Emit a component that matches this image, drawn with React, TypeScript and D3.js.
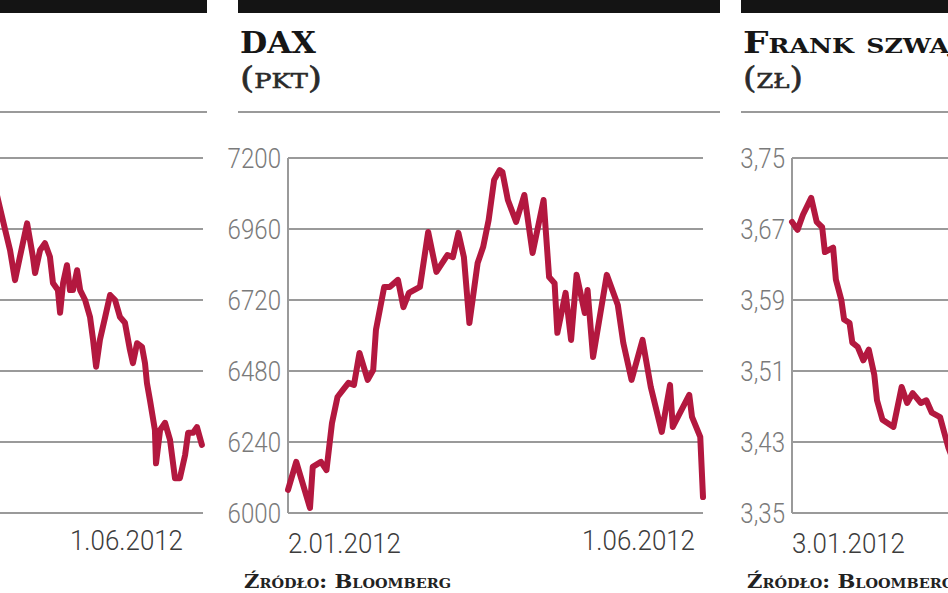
import React from "react";
import * as d3 from "d3";

const WIDTH = 948;
const HEIGHT = 593;

// Left panel (only its right part is visible) – day offsets from 2.01.2012 and values
const leftDays = [75, 77.1, 79, 80.8, 82.6, 84.4, 87, 89.1, 89.9, 91.7, 93.5, 95.3, 96.4, 98.2, 99, 100.1, 101.5, 102.6, 103.7, 105.2, 106.3, 108.1, 109.9, 111, 112.1, 113.5, 115.4, 117.2, 119, 120.8, 122.6, 124.4, 125.5, 127, 128.8, 129.9, 130.6, 131.7, 133.5, 133.9, 135.4, 137.2, 139, 140.8, 142.6, 144.5, 145.6, 147.4, 148.8, 150.6];
const leftValues = [2515, 2480, 2449, 2420, 2378, 2411, 2458, 2411, 2388, 2420, 2430, 2411, 2374, 2364, 2332, 2374, 2399, 2364, 2364, 2392, 2364, 2350, 2326, 2294, 2256, 2294, 2326, 2357, 2350, 2326, 2318, 2280, 2261, 2289, 2284, 2261, 2233, 2209, 2167, 2120, 2167, 2177, 2153, 2099, 2099, 2132, 2163, 2163, 2171, 2146];
const leftTicks = [2050, 2150, 2250, 2350, 2450, 2550];
const leftDateLabels = ["1.06.2012"];

// DAX (pkt)
const daxDays = [0, 3, 8, 9, 12, 14, 16, 18, 20, 22, 24, 26, 29, 31, 32, 35, 37, 40, 42, 44, 48, 51, 54, 58, 60, 62, 64, 66, 69, 71, 73, 75, 77, 78, 80, 83, 86, 89, 93, 95, 97, 98, 101, 103, 105, 108, 109, 111, 116, 120, 122, 125, 129, 132, 136, 139, 140, 146, 147, 150, 151];
const daxValues = [6078, 6173, 6017, 6156, 6173, 6145, 6304, 6392, 6416, 6440, 6433, 6541, 6450, 6483, 6619, 6764, 6764, 6788, 6696, 6744, 6764, 6950, 6815, 6872, 6865, 6947, 6865, 6642, 6845, 6899, 6990, 7126, 7159, 7153, 7058, 6984, 7075, 6879, 7058, 6798, 6777, 6609, 6744, 6585, 6805, 6676, 6754, 6527, 6805, 6703, 6575, 6450, 6585, 6426, 6274, 6433, 6291, 6399, 6325, 6257, 6054];
const daxTicks = [6000, 6240, 6480, 6720, 6960, 7200];
const daxDateLabels = ["2.01.2012", "1.06.2012"];

// Frank szwajcarski (zł)
const chfDays = [0, 2, 4, 7, 9, 11, 12, 15, 16, 18, 19, 21, 22, 24, 26, 28, 30, 31, 33, 37, 40, 42, 44, 47, 49, 51, 54, 57, 60];
const chfValues = [3.678, 3.669, 3.686, 3.705, 3.678, 3.672, 3.644, 3.649, 3.613, 3.59, 3.568, 3.564, 3.542, 3.537, 3.522, 3.534, 3.506, 3.477, 3.455, 3.447, 3.492, 3.474, 3.485, 3.474, 3.477, 3.463, 3.458, 3.424, 3.4];
const chfTicks = [3.35, 3.43, 3.51, 3.59, 3.67, 3.75];
const chfDateLabels = ["3.01.2012"];

const SOURCE = "Źródło: Bloomberg";

const LINE_COLOR = "#b3183f";
const GRID_COLOR = "#9a9a9a";
const PLOT_TOP = 158;
const PLOT_BOTTOM = 513;
const DAY_SPAN = 151;

const fmtComma = (v) => d3.format(".2f")(v).replace(".", ",");
const fmtInt = (v) => d3.format("d")(v);

function Panel({ p }) {
  const x = d3.scaleLinear().domain([0, DAY_SPAN]).range([p.plotLeft, p.plotRight]);
  const y = d3
    .scaleLinear()
    .domain([p.ticks[0], p.ticks[p.ticks.length - 1]])
    .range([PLOT_BOTTOM, PLOT_TOP]);
  const line = d3
    .line()
    .x((d, i) => x(p.days[i]))
    .y((d) => y(d))
    .curve(d3.curveLinear);
  const gridRight = Math.min(p.plotRight, WIDTH + 20);
  return (
    <g>
      <rect x={p.barLeft} y={0} width={p.barRight - p.barLeft} height={13} fill="#141414" />
      <line x1={p.barLeft} x2={p.barRight} y1={112} y2={112} stroke={GRID_COLOR} strokeWidth={2} />
      {p.title && (
        <text
          x={p.barLeft + 2}
          y={53}
          fontFamily="'DejaVu Serif', serif"
          fontWeight="bold"
          fontSize={30}
          fontVariant="small-caps"
          fill="#161616"
          textLength={p.titleLength}
          lengthAdjust="spacingAndGlyphs"
        >
          {p.title}
        </text>
      )}
      {p.unit && (
        <text
          x={p.barLeft + 2}
          y={88}
          fontFamily="'DejaVu Serif', serif"
          fontSize={30}
          fontVariant="small-caps"
          fill="#2a2a2a"
          stroke="#2a2a2a"
          strokeWidth={0.6}
          textLength={p.unitLength}
          lengthAdjust="spacingAndGlyphs"
        >
          {p.unit}
        </text>
      )}
      {p.ticks.map((t) => (
        <line
          key={"g" + t}
          x1={p.plotLeft}
          x2={gridRight}
          y1={y(t)}
          y2={y(t)}
          stroke={GRID_COLOR}
          strokeWidth={2}
        />
      ))}
      <line x1={p.plotLeft} x2={p.plotLeft} y1={PLOT_TOP} y2={PLOT_BOTTOM} stroke={GRID_COLOR} strokeWidth={2} />
      {p.showYLabels &&
        p.ticks.map((t) => (
          <text
            key={"l" + t}
            transform={`translate(${p.plotLeft - 7},${y(t) + 10}) scale(0.86,1)`}
            textAnchor="end"
            fontFamily="Roboto, sans-serif"
            fontWeight={300}
            fontSize={28}
            fill="#7a7a7a"
          >
            {p.fmt(t)}
          </text>
        ))}
      <path
        d={line(p.values)}
        fill="none"
        stroke={LINE_COLOR}
        strokeWidth={6}
        strokeLinejoin="round"
        strokeLinecap="round"
      />
      {p.dateLabels.map((lab, i) => (
        <text
          key={"d" + i}
          x={p.dateLabelX[i]}
          y={p.dateLabelY[i]}
          textAnchor={p.dateLabelAnchor[i]}
          fontFamily="Roboto, sans-serif"
          fontWeight={300}
          fontSize={28}
          fill="#3c3c3c"
          textLength={113}
          lengthAdjust="spacingAndGlyphs"
        >
          {lab}
        </text>
      ))}
      {p.source && (
        <text
          x={p.barLeft + 6}
          y={588}
          fontFamily="'DejaVu Serif', serif"
          fontWeight="bold"
          fontSize={19}
          fontVariant="small-caps"
          fill="#222"
          textLength={p.sourceLength}
          lengthAdjust="spacingAndGlyphs"
        >
          {SOURCE}
        </text>
      )}
    </g>
  );
}

const panels = [
  {
    key: "left",
    barLeft: -300,
    barRight: 207,
    plotLeft: -212,
    plotRight: 203,
    days: leftDays,
    values: leftValues,
    ticks: leftTicks,
    fmt: fmtInt,
    showYLabels: false,
    title: null,
    unit: null,
    source: false,
    dateLabels: leftDateLabels,
    dateLabelX: [183],
    dateLabelY: [550],
    dateLabelAnchor: ["end"],
  },
  {
    key: "dax",
    barLeft: 238,
    barRight: 720,
    plotLeft: 288,
    plotRight: 703,
    days: daxDays,
    values: daxValues,
    ticks: daxTicks,
    fmt: fmtInt,
    showYLabels: true,
    title: "DAX",
    titleLength: 76,
    unit: "(pkt)",
    unitLength: 82,
    source: true,
    sourceLength: 207,
    dateLabels: daxDateLabels,
    dateLabelX: [288, 695],
    dateLabelY: [553, 550],
    dateLabelAnchor: ["start", "end"],
  },
  {
    key: "chf",
    barLeft: 741,
    barRight: 960,
    plotLeft: 792,
    plotRight: 1206,
    days: chfDays,
    values: chfValues,
    ticks: chfTicks,
    fmt: fmtComma,
    showYLabels: true,
    title: "Frank szwajcarski",
    titleLength: 330,
    unit: "(zł)",
    unitLength: 60,
    source: true,
    sourceLength: 207,
    dateLabels: chfDateLabels,
    dateLabelX: [792],
    dateLabelY: [553],
    dateLabelAnchor: ["start"],
  },
];

export default function App() {
  return (
    <svg
      width={WIDTH}
      height={HEIGHT}
      viewBox={`0 0 ${WIDTH} ${HEIGHT}`}
      style={{ position: "absolute", left: 0, top: 0, display: "block", background: "#fff" }}
    >
      <rect x={0} y={0} width={WIDTH} height={HEIGHT} fill="#fff" />
      {panels.map((p) => (
        <Panel key={p.key} p={p} />
      ))}
    </svg>
  );
}
